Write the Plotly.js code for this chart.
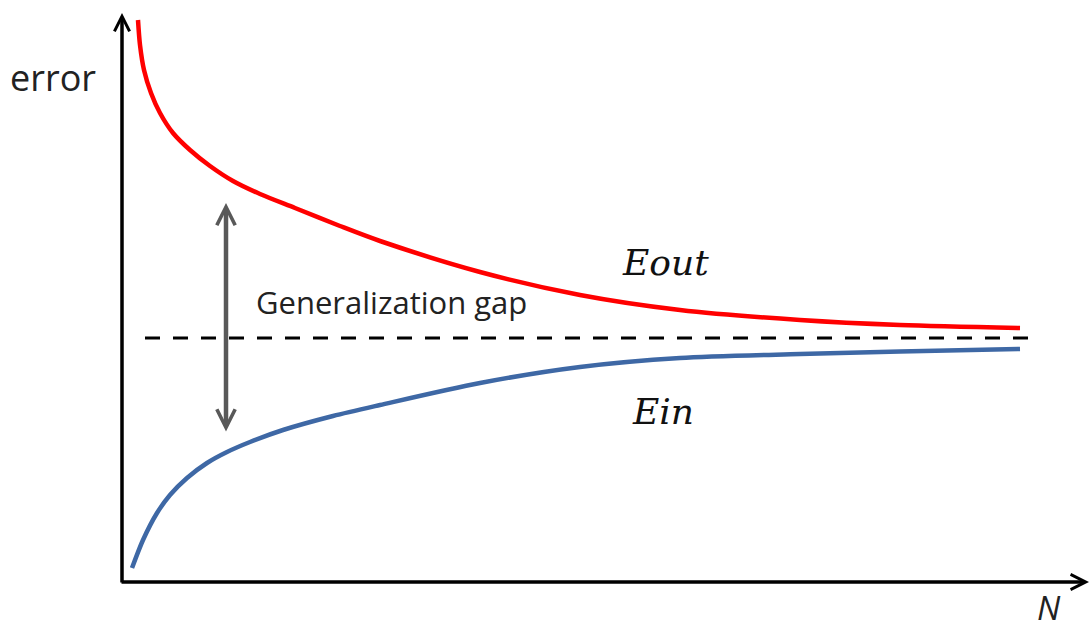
<!DOCTYPE html>
<html>
<head>
<meta charset="utf-8">
<script src="https://cdn.plot.ly/plotly-3.0.1.min.js"></script>
<style>html,body{margin:0;padding:0;background:#fff;}#chart{width:1091px;height:633px;}</style>
</head>
<body>
<div id="chart"></div>
<script>
// Training-set size N (arbitrary units) and error values
const eoutN = [0.16, 0.18, 0.22, 0.29, 0.38, 0.51, 0.68, 0.88, 1.11, 1.38, 1.73, 2.18, 2.58, 3.58, 4.58, 5.58, 6.78, 7.78, 8.98];
const eoutErr = [5.62, 5.37, 5.12, 4.89, 4.69, 4.49, 4.32, 4.16, 4.01, 3.88, 3.74, 3.56, 3.41, 3.10, 2.87, 2.72, 2.62, 2.57, 2.54];

const einN = [0.10, 0.21, 0.35, 0.48, 0.65, 0.85, 1.05, 1.28, 1.61, 2.11, 2.58, 3.58, 4.58, 5.58, 6.78, 7.78, 8.98];
const einErr = [0.14, 0.42, 0.69, 0.87, 1.04, 1.19, 1.30, 1.40, 1.52, 1.66, 1.77, 1.99, 2.15, 2.24, 2.28, 2.305, 2.33];

const asymptoteN = [0.23, 9.08];
const asymptoteErr = [2.44, 2.44];

const gapN = 1.04;
const gapTop = 3.79;
const gapBottom = 1.49;

const labels = {
  yTitle: "error",
  xTitle: "N",
  eout: "Eout",
  ein: "Ein",
  gap: "Generalization gap"
};

const traces = [
  {x: asymptoteN, y: asymptoteErr, mode: "lines", line: {color: "#000", width: 3, dash: "15px,13px"}, hoverinfo: "skip"},
  {x: eoutN, y: eoutErr, mode: "lines", line: {color: "#ff0000", width: 4.5, shape: "spline", smoothing: 0.8}, name: labels.eout},
  {x: einN, y: einErr, mode: "lines", line: {color: "#3e68a5", width: 4.5, shape: "spline", smoothing: 0.8}, name: labels.ein}
];

const arrowBase = {xref: "x", yref: "y", axref: "x", ayref: "y", text: "", showarrow: true};

const layout = {
  width: 1091, height: 633,
  margin: {l: 0, r: 0, t: 0, b: 0},
  paper_bgcolor: "#fff", plot_bgcolor: "#fff",
  showlegend: false,
  xaxis: {range: [-1.22, 9.69], visible: false, fixedrange: true},
  yaxis: {range: [-0.51, 5.82], visible: false, fixedrange: true},
  annotations: [
    Object.assign({}, arrowBase, {x: 0, y: 5.69, ax: 0, ay: -0.02, arrowhead: 5, arrowsize: 0.85, arrowwidth: 3.5, arrowcolor: "#000"}),
    Object.assign({}, arrowBase, {x: 9.67, y: 0, ax: -0.02, ay: 0, arrowhead: 5, arrowsize: 0.85, arrowwidth: 3.5, arrowcolor: "#000"}),
    Object.assign({}, arrowBase, {x: gapN, y: gapTop, ax: gapN, ay: gapBottom, arrowhead: 5, startarrowhead: 5, arrowside: "end+start", arrowsize: 0.8, startarrowsize: 0.8, arrowwidth: 4.5, arrowcolor: "#595959"}),
    {xref: "x", yref: "y", x: -0.69, y: 5.05, text: labels.yTitle, showarrow: false, font: {family: "Open Sans", size: 36, color: "#222"}},
    {xref: "x", yref: "y", x: 9.27, y: -0.50, yanchor: "bottom", text: labels.xTitle, showarrow: false, font: {family: "Open Sans", size: 33, color: "#222", style: "italic"}},
    {xref: "x", yref: "y", x: 2.69, y: 2.80, text: labels.gap, showarrow: false, font: {family: "Open Sans", size: 31, color: "#222"}},
    {xref: "x", yref: "y", x: 5.43, y: 3.20, text: labels.eout, showarrow: false, font: {family: "DejaVu Serif", size: 36, color: "#111", style: "italic"}},
    {xref: "x", yref: "y", x: 5.41, y: 1.71, text: labels.ein, showarrow: false, font: {family: "DejaVu Serif", size: 36, color: "#111", style: "italic"}}
  ]
};

Plotly.newPlot("chart", traces, layout, {displayModeBar: false, staticPlot: true});
</script>
</body>
</html>
